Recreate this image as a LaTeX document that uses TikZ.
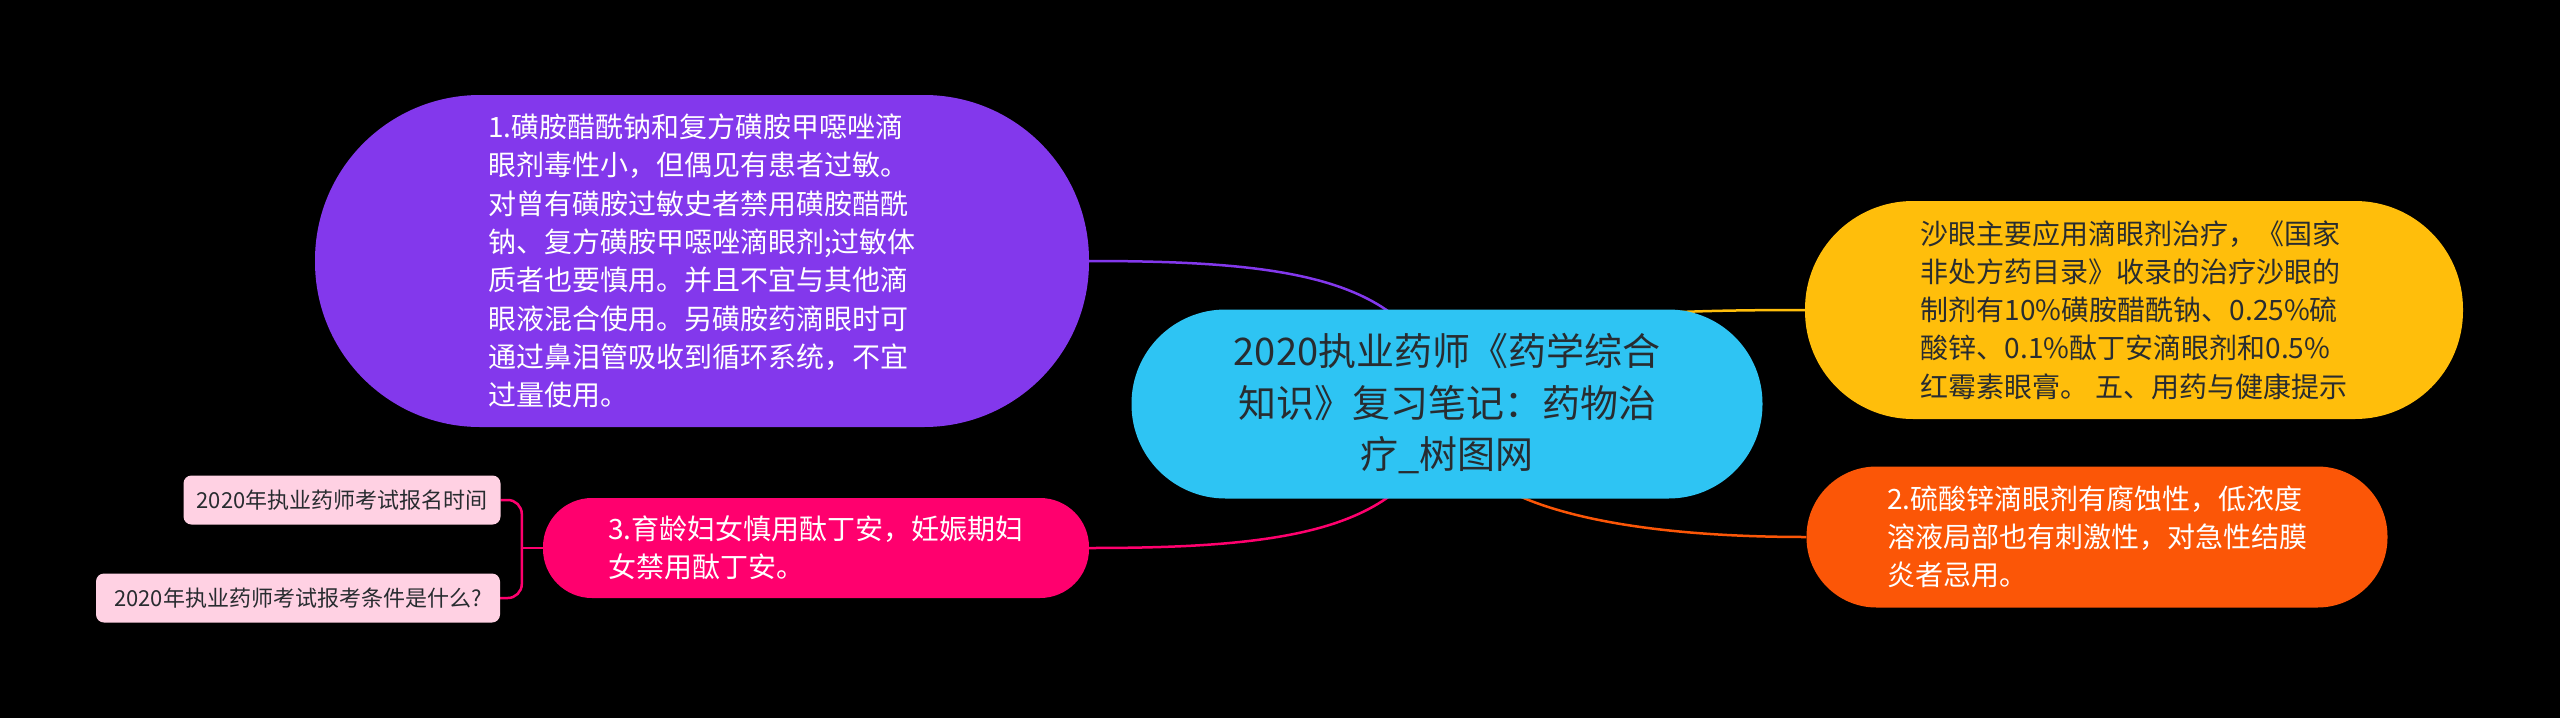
\documentclass[tikz,border=0pt]{standalone}
\usepackage{fontspec}
\setmainfont{Noto Sans CJK SC}
\usetikzlibrary{calc}
\pgfdeclarelayer{back}
\pgfdeclarelayer{bg}
\pgfsetlayers{back,bg,main}
\definecolor{cBlue}{RGB}{46,196,243}
\definecolor{cPurple}{RGB}{131,56,236}
\definecolor{cYellow}{RGB}{255,190,11}
\definecolor{cOrange}{RGB}{251,86,7}
\definecolor{cMag}{RGB}{255,0,110}
\definecolor{cLeaf}{RGB}{255,209,227}
\definecolor{cDark}{RGB}{40,44,48}
\begin{document}
\begin{tikzpicture}[x=1pt,y=-1pt]
\tikzset{
  topic/.style={rectangle, inner sep=0pt, align=left, font=\fontsize{28}{38.3}\selectfont},
  leafbox/.style={rectangle, rounded corners=8pt, fill=cLeaf, text=cDark, inner sep=0pt,
    minimum height=49pt, font=\fontsize{22}{26}\selectfont},
  link/.style={line width=2.5pt},
  leaflink/.style={line width=2.5pt, draw=cMag, rounded corners=14pt}
}
\begin{pgfonlayer}{back}
\fill[black] (0,0) rectangle (2560,718);
\end{pgfonlayer}
\useasboundingbox (0,0) rectangle (2560,718);

\node[topic, fill=cBlue, text=cDark, align=center, font=\fontsize{38}{51.5}\selectfont,
  minimum width=631pt, minimum height=189pt, rounded corners=94pt] (c) at (1447,404)
  {2020执业药师《药学综合\\知识》复习笔记：药物治\\疗\_树图网};

\node[topic, fill=cPurple, text=white, minimum width=774pt, minimum height=332pt,
  rounded corners=165pt] (n1) at (702,261)
  {1.磺胺醋酰钠和复方磺胺甲噁唑滴\\眼剂毒性小，但偶见有患者过敏。\\对曾有磺胺过敏史者禁用磺胺醋酰\\钠、复方磺胺甲噁唑滴眼剂;过敏体\\质者也要慎用。并且不宜与其他滴\\眼液混合使用。另磺胺药滴眼时可\\通过鼻泪管吸收到循环系统，不宜\\过量使用。};

\node[topic, fill=cYellow, text=cDark, minimum width=658pt, minimum height=218pt,
  rounded corners=108pt] (n2) at (2134,310)
  {沙眼主要应用滴眼剂治疗，《国家\\非处方药目录》收录的治疗沙眼的\\制剂有10\%磺胺醋酰钠、0.25\%硫\\酸锌、0.1\%酞丁安滴眼剂和0.5\%\\红霉素眼膏。 五、用药与健康提示};

\node[topic, fill=cOrange, text=white, minimum width=581pt, minimum height=141pt,
  rounded corners=70pt] (n3) at (2097,537)
  {2.硫酸锌滴眼剂有腐蚀性，低浓度\\溶液局部也有刺激性，对急性结膜\\炎者忌用。};

\node[topic, fill=cMag, text=white, minimum width=546pt, minimum height=100pt,
  rounded corners=49pt] (n4) at (816,548)
  {3.育龄妇女慎用酞丁安，妊娠期妇\\女禁用酞丁安。};

\node[leafbox, minimum width=317pt] (l1) at (342,500) {2020年执业药师考试报名时间};
\node[leafbox, minimum width=404pt] (l2) at (298,598) {2020年执业药师考试报考条件是什么?};

\coordinate (j) at ($(n4.west)+(-21,0)$);

\begin{pgfonlayer}{bg}
\draw[link, draw=cPurple] (n1.east) .. controls (1300,261) and (1420,280) .. (c.center);
\draw[link, draw=cMag] (n4.east) .. controls (1300,548) and (1420,528) .. (c.center);
\draw[link, draw=cYellow] (n2.west) .. controls (1600,310) and (1440,320) .. (c.center);
\draw[link, draw=cOrange] (n3.west) .. controls (1600,537) and (1440,500) .. (c.center);
\draw[leaflink] (n4.west) -- (j);
\draw[leaflink] (l1.east) -| (j);
\draw[leaflink] (l2.east) -| (j);
\end{pgfonlayer}
\end{tikzpicture}
\end{document}
